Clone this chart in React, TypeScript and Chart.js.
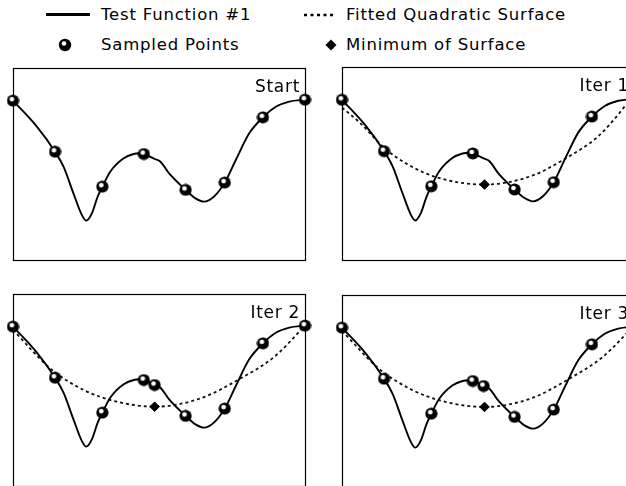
import React, { useEffect, useRef } from "react";
import { Chart, registerables } from "chart.js";

Chart.register(...registerables);

// ---- Data (x: 0..100 across each panel, y: 0..100 bottom..top) ----
// Test function
const curveX = [0, 8.1, 14.4, 17.3, 20.7, 23.6, 25.1, 27.0, 29.0, 30.6, 33.3, 37.9, 41.3, 43.2, 44.8, 48.5, 50.5, 53.4, 59.1, 62.5, 65.4, 68.8, 72.5, 76.3, 80.9, 85.6, 90.0, 94.6, 100];
const curveY = [83.0, 69.6, 56.4, 48.6, 34.7, 23.4, 20.5, 24.3, 33.0, 38.2, 46.0, 53.0, 55.2, 55.6, 55.2, 52.6, 51.2, 45.2, 36.5, 32.1, 30.4, 33.0, 40.3, 52.1, 66.0, 74.3, 79.8, 82.5, 83.5];

// Sampled points
const startSampleX = [0, 14.4, 30.6, 44.8, 59.1, 72.5, 85.6, 100];
const startSampleY = [83.0, 56.4, 38.2, 55.2, 36.5, 40.3, 74.3, 83.5];
const iter2SampleX = [0, 14.4, 30.6, 44.8, 48.5, 59.1, 72.5, 85.6, 100];
const iter2SampleY = [83.0, 56.4, 38.2, 55.2, 52.6, 36.5, 40.3, 74.3, 83.5];
const iter3SampleX = [0, 14.4, 30.6, 44.8, 48.5, 59.1, 72.5, 85.6, 100];
const iter3SampleY = [83.0, 56.4, 38.2, 55.2, 52.6, 36.5, 40.3, 74.3, 83.5];

// Fitted quadratic surfaces
const fit1X = [0, 6.2, 14.2, 22.2, 32.5, 48.8, 64.6, 77.0, 87.3, 93.0, 97.6, 100];
const fit1Y = [79.0, 71.0, 58.5, 49.8, 42.8, 39.1, 43.4, 53.0, 63.5, 72.5, 81.0, 85.0];
const fit2X = [0, 12.7, 24.2, 35.6, 48.5, 64.3, 78.0, 89.5, 100];
const fit2Y = [81.3, 61.3, 50.0, 43.9, 41.3, 45.7, 56.1, 67.3, 83.5];
const fit3X = [0, 12.5, 24.5, 35.8, 48.8, 64.5, 78.4, 89.5, 100];
const fit3Y = [81.3, 61.8, 50.2, 44.2, 41.7, 46.0, 56.9, 68.0, 84.0];

// Minimum of each surface
const min1 = [48.8, 39.1];
const min2 = [48.5, 41.3];
const min3 = [48.8, 41.7];

const panelTitles = ["Start", "Iter 1", "Iter 2", "Iter 3"];

const FONT = '"DejaVu Sans", Verdana, sans-serif';
const P = 12;

type Panel = {
  title: string;
  box: [number, number, number, number]; // left, top, width, height (page px)
  sx: number[];
  sy: number[];
  fx?: number[];
  fy?: number[];
  min?: number[];
};

const panels: Panel[] = [
  { title: panelTitles[0], box: [13, 68, 292, 192], sx: startSampleX, sy: startSampleY },
  { title: panelTitles[1], box: [342, 67, 292, 193], sx: startSampleX, sy: startSampleY, fx: fit1X, fy: fit1Y, min: min1 },
  { title: panelTitles[2], box: [13, 294, 292, 192], sx: iter2SampleX, sy: iter2SampleY, fx: fit2X, fy: fit2Y, min: min2 },
  { title: panelTitles[3], box: [342, 295, 292, 192], sx: iter3SampleX, sy: iter3SampleY, fx: fit3X, fy: fit3Y, min: min3 },
];

const toPts = (xs: number[], ys: number[]) => xs.map((x, i) => ({ x, y: ys[i] }));

let sphereImg: HTMLCanvasElement | null = null;
function getSphere(): HTMLCanvasElement {
  if (sphereImg) return sphereImg;
  const c = document.createElement("canvas");
  c.width = 13;
  c.height = 13;
  const g = c.getContext("2d")!;
  g.beginPath();
  g.arc(6.5, 6.5, 6.1, 0, Math.PI * 2);
  g.fillStyle = "#000";
  g.fill();
  const grad = g.createRadialGradient(5.4, 5, 0, 5.4, 5, 2.8);
  grad.addColorStop(0, "#fff");
  grad.addColorStop(0.65, "#fff");
  grad.addColorStop(1, "rgba(255,255,255,0)");
  g.beginPath();
  g.arc(5.4, 5, 2.8, 0, Math.PI * 2);
  g.fillStyle = grad;
  g.fill();
  sphereImg = c;
  return c;
}

const boxPlugin = {
  id: "panelBox",
  beforeDatasetsDraw(chart: any) {
    const { left, top, right, bottom } = chart.chartArea;
    const ctx = chart.ctx;
    ctx.save();
    ctx.strokeStyle = "#000";
    ctx.lineWidth = 1.2;
    ctx.strokeRect(Math.round(left) + 0.5, Math.round(top) + 0.5, Math.round(right - left), Math.round(bottom - top));
    ctx.restore();
  },
};

function PanelChart({ panel }: { panel: Panel }) {
  const ref = useRef<HTMLCanvasElement>(null);
  const [bx, by, bw, bh] = panel.box;
  const W = bw + 2 * P;
  const H = bh + 2 * P;

  useEffect(() => {
    if (!ref.current) return;
    const datasets: any[] = [
      {
        label: "Sampled Points",
        data: toPts(panel.sx, panel.sy),
        showLine: false,
        pointStyle: getSphere(),
        pointRadius: 6,
        order: 0,
        clip: false,
      },
      {
        label: "Test Function #1",
        data: toPts(curveX, curveY),
        borderColor: "#000",
        borderWidth: 1.9,
        pointRadius: 0,
        cubicInterpolationMode: "monotone",
        order: 2,
        clip: 4,
      },
    ];
    if (panel.fx && panel.fy && panel.min) {
      datasets.push({
        label: "Minimum of Surface",
        data: [{ x: panel.min[0], y: panel.min[1] }],
        showLine: false,
        pointStyle: "rectRot",
        pointRadius: 4.8,
        backgroundColor: "#000",
        borderColor: "#000",
        borderWidth: 1,
        order: 1,
        clip: false,
      });
      datasets.push({
        label: "Fitted Quadratic Surface",
        data: toPts(panel.fx, panel.fy),
        borderColor: "#111",
        borderWidth: 1.8,
        borderDash: [3, 3],
        pointRadius: 0,
        cubicInterpolationMode: "monotone",
        order: 3,
        clip: 4,
      });
    }
    const chart = new Chart(ref.current, {
      type: "line",
      data: { datasets },
      options: {
        animation: false,
        responsive: false,
        events: [],
        layout: { padding: P },
        plugins: { legend: { display: false }, tooltip: { enabled: false } },
        scales: {
          x: { type: "linear", min: 0, max: 100, display: false },
          y: { type: "linear", min: 0, max: 100, display: false },
        },
      },
      plugins: [boxPlugin],
    } as any);
    return () => chart.destroy();
  }, [panel]);

  return (
    <>
      <canvas
        ref={ref}
        width={W}
        height={H}
        style={{ position: "absolute", left: bx - P, top: by - P, width: W, height: H }}
      />
      <div
        style={{
          position: "absolute",
          left: bx + bw - 5 - 120,
          width: 120,
          top: by + 8,
          textAlign: "right",
          font: `17px ${FONT}`,
          lineHeight: "20px",
          letterSpacing: "0.7px",
          color: "#000",
          whiteSpace: "nowrap",
        }}
      >
        {panel.title}
      </div>
    </>
  );
}

const legendText: React.CSSProperties = {
  position: "absolute",
  font: `16.5px ${FONT}`,
  lineHeight: "20px",
  letterSpacing: "0.8px",
  color: "#000",
  whiteSpace: "nowrap",
};

function Legend() {
  return (
    <>
      <svg style={{ position: "absolute", left: 0, top: 0 }} width={626} height={60}>
        <line x1={46} y1={14.5} x2={90} y2={14.5} stroke="#000" strokeWidth={3} />
        <line x1={304} y1={15} x2={336} y2={15} stroke="#000" strokeWidth={2.5} strokeDasharray="3 3.5" />
        <circle cx={65} cy={45} r={6.2} fill="#000" />
        <circle cx={64} cy={43.5} r={2.3} fill="#fff" />
        <polygon points="331,39.5 336.5,45 331,50.5 325.5,45" fill="#000" />
      </svg>
      <div style={{ ...legendText, left: 101, top: 5 }}>Test Function #1</div>
      <div style={{ ...legendText, left: 346, top: 5 }}>Fitted Quadratic Surface</div>
      <div style={{ ...legendText, left: 101, top: 35 }}>Sampled Points</div>
      <div style={{ ...legendText, left: 346, top: 35 }}>Minimum of Surface</div>
    </>
  );
}

export default function App() {
  return (
    <div
      style={{
        position: "fixed",
        left: 0,
        top: 0,
        width: 626,
        height: 486,
        overflow: "hidden",
        background: "#fff",
      }}
    >
      <Legend />
      {panels.map((p) => (
        <PanelChart key={p.title} panel={p} />
      ))}
    </div>
  );
}
